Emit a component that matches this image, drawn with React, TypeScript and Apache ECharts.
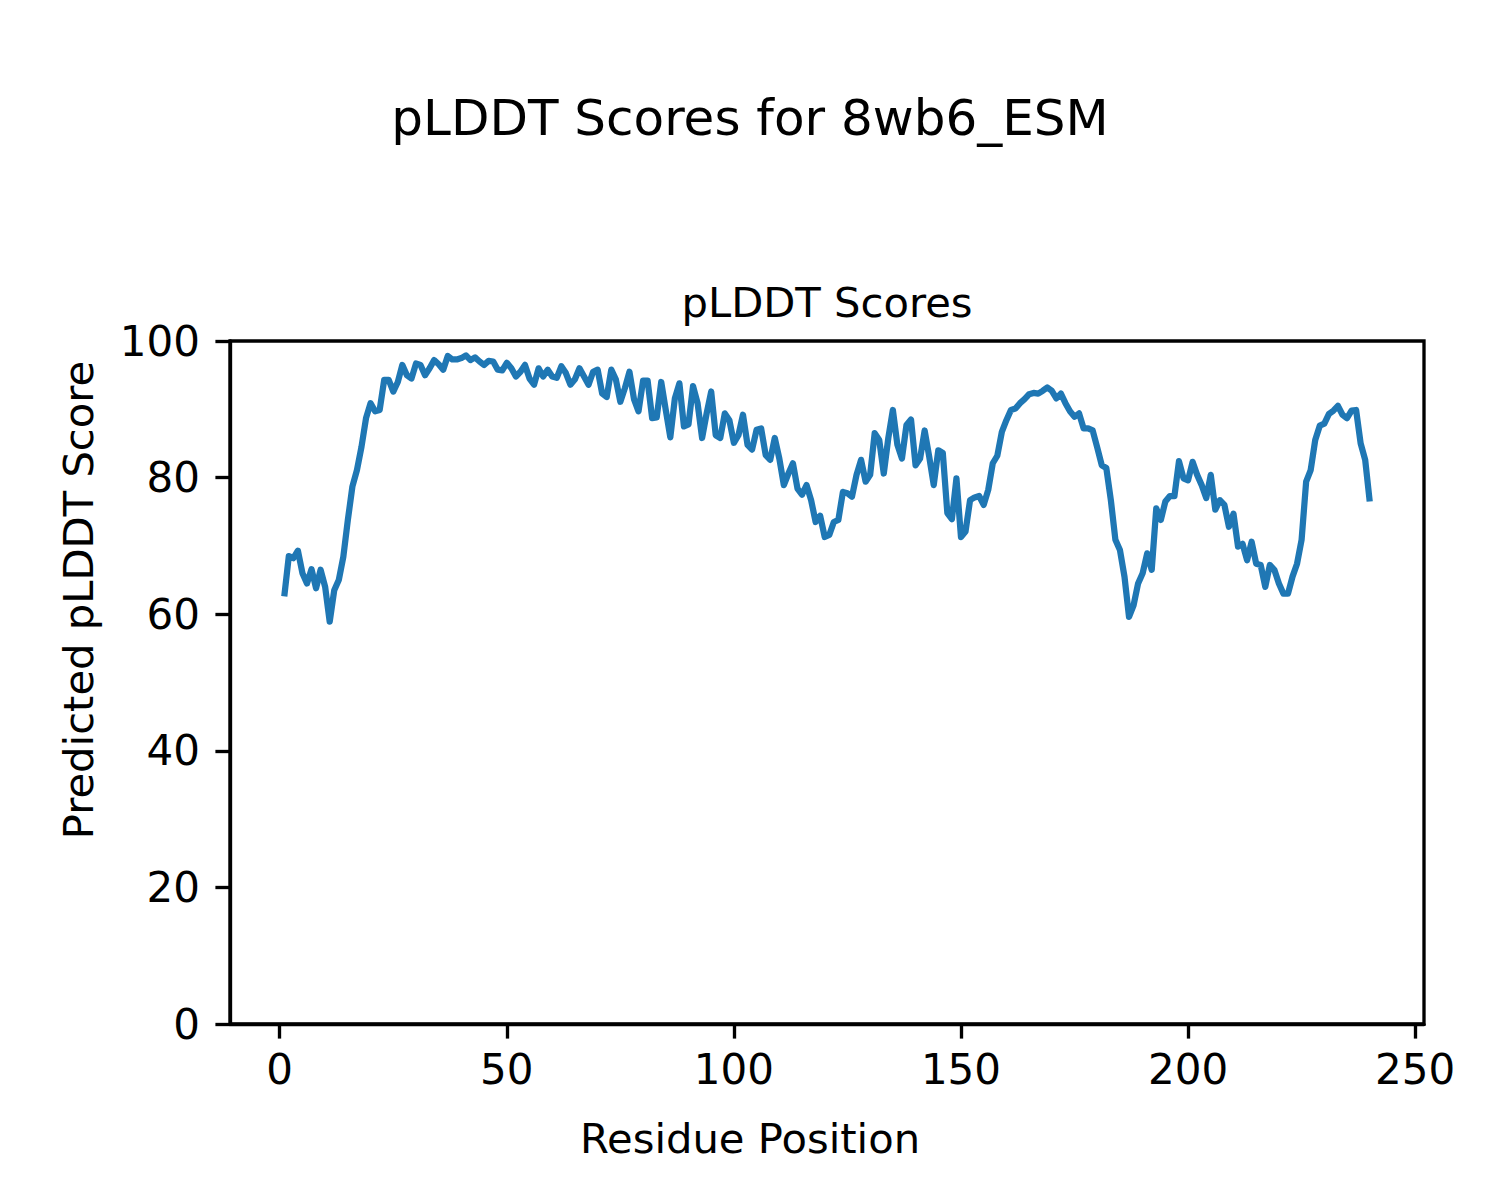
import React, { useEffect, useRef } from "react";
import * as echarts from "echarts";

const suptitle = "pLDDT Scores for 8wb6_ESM";
const axesTitle = "pLDDT Scores";
const xLabel = "Residue Position";
const yLabel = "Predicted pLDDT Score";

const scores: number[] = [
  62.6, 68.5, 68.2, 69.3, 66.0, 64.5, 66.6, 63.8, 66.5, 64.0,
  58.9, 63.5, 65.0, 68.4, 73.8, 78.7, 81.1, 84.5, 88.7, 90.9,
  89.7, 89.9, 94.3, 94.3, 92.6, 94.0, 96.5, 95.0, 94.5, 96.7,
  96.5, 95.0, 96.0, 97.2, 96.6, 95.8, 97.8, 97.3, 97.3, 97.5,
  97.9, 97.2, 97.6, 97.0, 96.5, 97.1, 97.0, 95.8, 95.7, 96.8,
  96.0, 94.8, 95.5, 96.5, 94.5, 93.6, 96.0, 94.8, 95.8, 94.8,
  94.6, 96.3, 95.3, 93.6, 94.4, 96.0, 94.8, 93.6, 95.5, 95.8,
  92.3, 91.8, 95.8, 94.4, 91.1, 93.1, 95.5, 91.5, 89.7, 94.2,
  94.2, 88.7, 88.8, 94.0, 89.9, 85.9, 91.6, 93.8, 87.5, 87.8,
  93.4, 90.9, 85.8, 89.4, 92.6, 86.2, 85.8, 89.4, 88.4, 85.1,
  86.2, 89.2, 84.8, 84.1, 87.0, 87.2, 83.3, 82.6, 85.8, 82.8,
  78.9, 80.6, 82.1, 78.4, 77.5, 78.9, 76.7, 73.5, 74.4, 71.3,
  71.6, 73.5, 73.8, 77.9, 77.7, 77.2, 80.4, 82.6, 79.4, 80.4,
  86.5, 85.5, 80.6, 85.8, 89.9, 84.8, 82.8, 87.7, 88.5, 81.8,
  82.8, 86.9, 83.1, 78.9, 84.0, 83.6, 74.8, 73.9, 79.9, 71.3,
  72.1, 76.7, 77.1, 77.3, 76.0, 78.2, 82.1, 83.2, 86.7, 88.4,
  89.9, 90.1, 90.9, 91.5, 92.2, 92.4, 92.3, 92.7, 93.2, 92.7,
  91.6, 92.3, 90.9, 89.7, 88.9, 89.4, 87.2, 87.2, 86.9, 84.4,
  81.8, 81.4, 76.7, 70.9, 69.4, 65.5, 59.6, 61.3, 64.5, 66.0,
  68.9, 66.5, 75.5, 73.8, 76.5, 77.3, 77.3, 82.4, 79.9, 79.6,
  82.3, 80.4, 78.9, 77.0, 80.4, 75.3, 76.7, 76.0, 72.8, 74.7,
  69.9, 70.3, 67.9, 70.6, 67.4, 67.2, 64.0, 67.2, 66.5, 64.5,
  63.0, 63.0, 65.5, 67.4, 70.9, 79.4, 81.1, 85.5, 87.6, 87.9,
  89.3, 89.8, 90.5, 89.2, 88.7, 89.8, 89.9, 85.0, 82.6, 76.5,
];

const residues: number[] = scores.map((_, i) => i + 1);

const xTicks = [0, 50, 100, 150, 200, 250];
const yTicks = [0, 20, 40, 60, 80, 100];

const FONT = "DejaVu Sans";
const LW = 3.33;

export default function App() {
  const ref = useRef<HTMLDivElement>(null);

  useEffect(() => {
    if (!ref.current) return;
    const chart = echarts.init(ref.current, null, { renderer: "svg" });
    const xMin = 1 - 0.05 * (240 - 1);
    const xMax = 240 + 0.05 * (240 - 1);
    chart.setOption({
      animation: false,
      backgroundColor: "#ffffff",
      grid: {
        left: 230,
        top: 341,
        width: 1194,
        height: 683,
        show: true,
        borderColor: "#000",
        borderWidth: LW,
        backgroundColor: "transparent",
      },
      xAxis: {
        type: "value",
        min: xMin,
        max: xMax,
        splitLine: { show: false },
        axisLine: { show: true, onZero: false, lineStyle: { color: "#000", width: LW } },
        axisTick: {
          show: true,
          length: 14.6,
          lineStyle: { color: "#000", width: LW },
          customValues: xTicks,
        },
        axisLabel: {
          customValues: xTicks,
          margin: 24,
          color: "#000",
          fontFamily: FONT,
          fontSize: 42,
        },
      },
      yAxis: {
        type: "value",
        min: yTicks[0],
        max: yTicks[yTicks.length - 1],
        interval: 20,
        splitLine: { show: false },
        axisLine: { show: true, onZero: false, lineStyle: { color: "#000", width: LW } },
        axisTick: { show: true, length: 14.6, lineStyle: { color: "#000", width: LW } },
        axisLabel: {
          margin: 30,
          color: "#000",
          fontFamily: FONT,
          fontSize: 42,
        },
      },
      series: [
        {
          type: "line",
          data: residues.map((r, i) => [r, scores[i]]),
          showSymbol: false,
          symbol: "none",
          lineStyle: { color: "#1f77b4", width: 6.25, join: "round", cap: "butt" },
          itemStyle: { color: "#1f77b4" },
        },
      ],
      graphic: [
        {
          type: "text",
          x: 750,
          y: 118,
          style: {
            text: suptitle,
            font: `50px "${FONT}"`,
            fill: "#000",
            textAlign: "center",
            textVerticalAlign: "middle",
          },
        },
        {
          type: "text",
          x: 827,
          y: 302,
          style: {
            text: axesTitle,
            font: `41.7px "${FONT}"`,
            fill: "#000",
            textAlign: "center",
            textVerticalAlign: "middle",
          },
        },
        {
          type: "text",
          x: 750,
          y: 1138,
          style: {
            text: xLabel,
            font: `41.7px "${FONT}"`,
            fill: "#000",
            textAlign: "center",
            textVerticalAlign: "middle",
          },
        },
        {
          type: "text",
          x: 78,
          y: 600,
          rotation: Math.PI / 2,
          style: {
            text: yLabel,
            font: `41.7px "${FONT}"`,
            fill: "#000",
            textAlign: "center",
            textVerticalAlign: "middle",
          },
        },
      ],
    });
    return () => chart.dispose();
  }, []);

  return (
    <div
      ref={ref}
      style={{ position: "absolute", left: 0, top: 0, width: 1500, height: 1200, background: "#fff" }}
    />
  );
}
